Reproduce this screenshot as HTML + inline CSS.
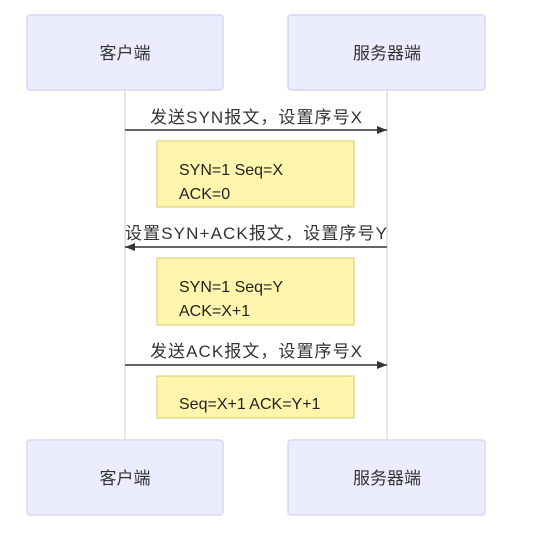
<!DOCTYPE html>
<html><head><meta charset="utf-8"><style>
body{margin:0;background:#fff;}
svg text{font-family:"Liberation Sans","Noto Sans CJK SC",sans-serif;}
</style></head><body>
<svg width="554" height="534" xmlns="http://www.w3.org/2000/svg">
<defs><marker id="a" markerWidth="10" markerHeight="8" refX="10" refY="4" orient="auto" markerUnits="userSpaceOnUse"><path d="M0,0 L10,4 L0,8 z" fill="#333"/></marker></defs>
<line x1="125" y1="90" x2="125" y2="440" stroke="#ccc" stroke-width="1"/>
<line x1="387" y1="90" x2="387" y2="440" stroke="#ccc" stroke-width="1"/>
<g fill="#ececff" stroke="#d6d6f8" stroke-width="1.5">
<rect x="27" y="15" width="196" height="75" rx="3"/>
<rect x="288" y="15" width="197" height="75" rx="3"/>
<rect x="27" y="440" width="196" height="75" rx="3"/>
<rect x="288" y="440" width="197" height="75" rx="3"/>
</g>
<g font-size="17" fill="#333" text-anchor="middle">
<text x="125" y="59">客户端</text><text x="387" y="59">服务器端</text>
<text x="125" y="484">客户端</text><text x="387" y="484">服务器端</text>
</g>
<g stroke="#333" stroke-width="1.5">
<line x1="125" y1="130" x2="387" y2="130" marker-end="url(#a)"/>
<line x1="387" y1="247" x2="125" y2="247" marker-end="url(#a)"/>
<line x1="125" y1="365" x2="387" y2="365" marker-end="url(#a)"/>
</g>
<g font-size="17" fill="#333" text-anchor="middle">
<text x="256" y="123" textLength="212">发送SYN报文，设置序号X</text>
<text x="256" y="239" textLength="262">设置SYN+ACK报文，设置序号Y</text>
<text x="256" y="357" textLength="212">发送ACK报文，设置序号X</text>
</g>
<g fill="#fff5ad" stroke="#d9cc6e" stroke-width="1">
<rect x="157" y="141" width="197" height="66"/>
<rect x="157" y="258" width="197" height="67"/>
<rect x="157" y="376" width="197" height="42"/>
</g>
<g font-size="16" fill="#222">
<text x="179" y="175">SYN=1 Seq=X</text><text x="179" y="199">ACK=0</text>
<text x="179" y="292">SYN=1 Seq=Y</text><text x="179" y="316">ACK=X+1</text>
<text x="179" y="409">Seq=X+1 ACK=Y+1</text>
</g>
</svg>
</body></html>
